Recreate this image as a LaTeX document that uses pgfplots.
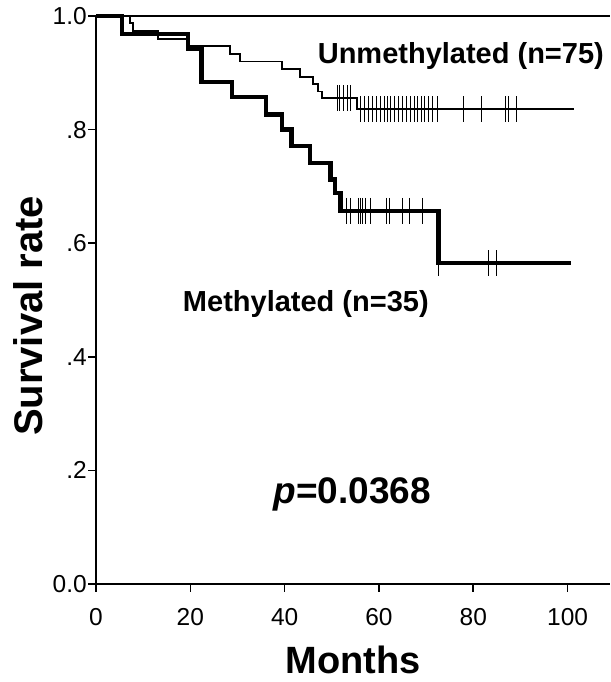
\documentclass[border=0pt]{standalone}
\usepackage{fontspec}
\setmainfont{Liberation Sans}
\usepackage{pgfplots}
\pgfplotsset{compat=1.18}
\begin{document}
\begin{tikzpicture}[x=1pt,y=1pt]
\useasboundingbox (0,0) rectangle (610,682);
\begin{axis}[
  at={(96pt,98pt)}, anchor=south west,
  scale only axis, width=514pt, height=568pt,
  xmin=0, xmax=109, ymin=0, ymax=1,
  axis x line*=bottom, axis y line*=left,
  axis line style={-, line width=1.6pt},
  xtick={0,20,40,60,80,100}, ytick={0,0.2,0.4,0.6,0.8,1},
  yticklabels={0.0,.2,.4,.6,.8,1.0},
  tick align=outside, major tick length=8pt,
  tick style={line width=1.6pt, black},
  tick label style={font=\fontsize{24.5}{26}\selectfont, inner sep=1pt},
  xticklabel style={yshift=-15pt},
  /pgf/number format/assume math mode=true,
  xlabel={Months}, ylabel={Survival rate},
  label style={font=\bfseries\fontsize{38}{40}\selectfont, inner sep=0pt},
  xlabel style={at={(axis description cs:0.5,-0.1345)}, anchor=center},
  ylabel style={at={(axis description cs:-0.1323,0.472)}, anchor=center, font=\bfseries\fontsize{40}{42}\selectfont},
  clip=false,
]
\draw[line width=1.6pt] (rel axis cs:0,1) -- (rel axis cs:1,1);
% Methylated
\addplot[const plot, line width=4.5pt, black] coordinates {
(0,1) (5.5,0.968) (19.5,0.943) (22.4,0.884) (28.8,0.857) (36,0.827)
(39.4,0.800) (41.5,0.771) (45.4,0.741) (49.7,0.712) (50.7,0.688)
(51.8,0.657) (72.6,0.565) (100.8,0.565)};
% Unmethylated
\addplot[const plot, line width=1.8pt, black] coordinates {
(0,1) (7.2,0.987) (7.9,0.973) (13.2,0.960) (19.5,0.947) (28.5,0.933)
(30.6,0.920) (39.4,0.907) (43.3,0.893) (46.1,0.880) (47.1,0.867)
(48,0.855) (55.3,0.836) (101.3,0.836)};
% censor marks
\addplot[only marks, mark=|, mark size=13pt, mark options={line width=0.7pt, black}] coordinates {
(53.0,0.657) (53.9,0.657) (55.6,0.657) (56.0,0.657) (56.5,0.657) (57.2,0.657)
(58.2,0.657) (61.5,0.657) (62.2,0.657) (65.0,0.657) (66.4,0.657) (69.3,0.657)
(72.6,0.565) (83.3,0.565) (84.9,0.565)};
\addplot[only marks, mark=|, mark size=13pt, mark options={line width=0.7pt, black}] coordinates {
(51.1,0.855) (51.7,0.855) (52.4,0.855) (53.2,0.855) (53.9,0.855)
(56.1,0.836) (57.0,0.836) (57.8,0.836) (58.5,0.836) (59.4,0.836) (60.3,0.836)
(61.2,0.836) (61.8,0.836) (62.4,0.836) (63.3,0.836) (64.2,0.836) (65.0,0.836)
(65.8,0.836) (66.7,0.836) (67.5,0.836) (68.2,0.836) (68.9,0.836) (69.6,0.836)
(70.5,0.836) (71.3,0.836) (72.3,0.836) (77.9,0.836) (81.7,0.836) (86.8,0.836)
(87.5,0.836) (89.2,0.836)};
\node[anchor=base west, inner sep=0pt, font=\bfseries\fontsize{29}{30}\selectfont] at (axis cs:47.0,0.917) {Unmethylated (n=75)};
\node[anchor=base west, inner sep=0pt, font=\bfseries\fontsize{29}{30}\selectfont] at (axis cs:18.4,0.480) {Methylated (n=35)};
\node[anchor=base west, inner sep=0pt, font=\bfseries\fontsize{37}{40}\selectfont] at (axis cs:37.6,0.142) {\textit{p}=0.0368};
\end{axis}
\end{tikzpicture}
\end{document}
